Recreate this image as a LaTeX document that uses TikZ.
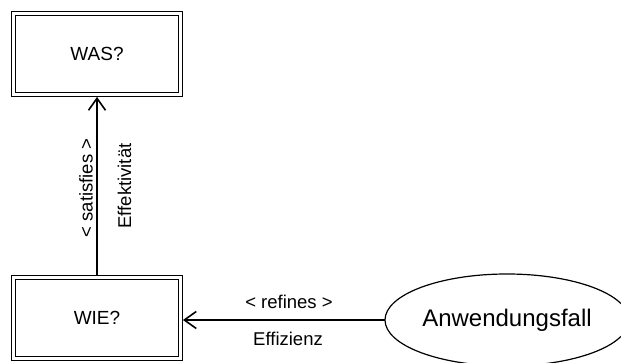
\documentclass[tikz,border=0pt]{standalone}
\usepackage{fontspec}
\setmainfont{Liberation Sans}
\usetikzlibrary{arrows.meta,shapes.geometric}

\tikzset{
  classbox/.style={draw, double, double distance=2.4pt, line width=1.2pt,
    minimum width=167pt, minimum height=81pt, inner sep=0pt, outer sep=2.4pt,
    font=\fontsize{19}{22}\selectfont},
  usecase/.style={draw, ellipse, line width=1.2pt, minimum width=244pt,
    minimum height=92pt, inner sep=0pt, outer sep=0pt,
    font=\fontsize{24}{28}\selectfont},
  rel/.style={line width=1.6pt, -{Straight Barb[length=12pt,width=17pt,line width=1.6pt]}},
  lbl/.style={font=\fontsize{18.5}{22}\selectfont, inner sep=0pt}
}

\begin{document}
\begin{tikzpicture}[x=1pt, y=-1pt]
  \useasboundingbox (0,0) rectangle (621,363);
  \begin{scope}
    \clip (0,0) rectangle (621,363);

    % requirement boxes
    \node[classbox] (was) at (97,54) {WAS?};
    \node[classbox] (wie) at (97,318) {WIE?};

    % use case
    \node[usecase] (uc) at (507,320) {Anwendungsfall};

    % relations
    \draw[rel] (wie.north) -- (was.south);
    \draw[rel] (uc.west) -- (wie.east |- uc.west);

    % relation labels
    \node[lbl, rotate=90] (sat) at (86,188) {< satisfies >};
    \node[lbl, rotate=90] (eff) at (124.5,186) {Effektivität};
    \node[lbl] (ref) at (289,302) {< refines >};
    \node[lbl] (ezi) at (288,339) {Effizienz};
  \end{scope}
\end{tikzpicture}
\end{document}
